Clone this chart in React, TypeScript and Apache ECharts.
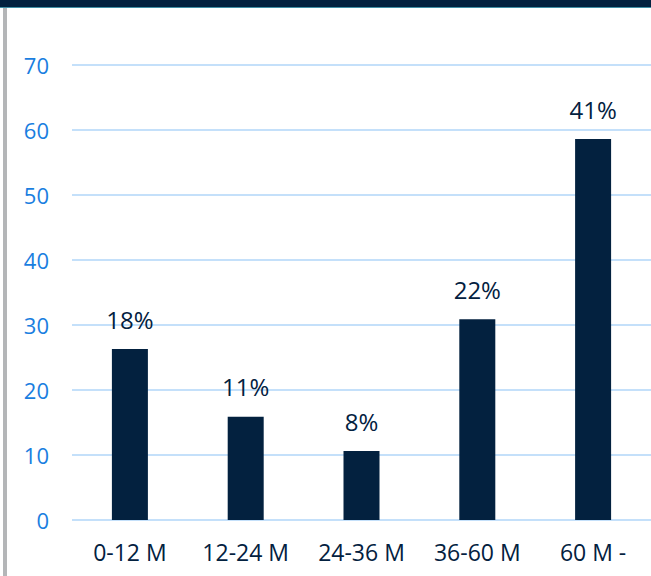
import React, { useEffect, useRef } from "react";
import * as echarts from "echarts";

const categories = ["0-12 M", "12-24 M", "24-36 M", "36-60 M", "60 M -"];
const values = [26.3, 15.9, 10.6, 30.9, 58.6];
const percentLabels = ["18%", "11%", "8%", "22%", "41%"];
const yTicks = [0, 10, 20, 30, 40, 50, 60, 70];

export default function App() {
  const ref = useRef<HTMLDivElement>(null);
  useEffect(() => {
    if (!ref.current) return;
    const chart = echarts.init(ref.current, undefined, { renderer: "svg" });
    chart.setOption({
      animation: false,
      backgroundColor: "#ffffff",
      textStyle: { fontFamily: "Open Sans" },
      graphic: [
        { type: "rect", left: 0, top: 0, shape: { width: 651, height: 7 }, style: { fill: "#03213f" } },
        { type: "rect", left: 0, top: 7, shape: { width: 651, height: 1 }, style: { fill: "#3f8ea4" } },
        { type: "rect", left: 3, top: 8, shape: { width: 4, height: 568 }, style: { fill: "#b4b6b8" } },
      ],
      grid: { left: 72, right: 0, top: 65, bottom: 56 },
      xAxis: {
        type: "category",
        data: categories,
        axisLine: { show: false },
        axisTick: { show: false },
        axisLabel: { color: "#03213f", fontSize: 23, margin: 20, fontFamily: "Open Sans" },
      },
      yAxis: {
        type: "value",
        min: yTicks[0],
        max: yTicks[yTicks.length - 1],
        interval: 10,
        axisLine: { show: false },
        axisTick: { show: false },
        axisLabel: { color: "#1a7ee0", fontSize: 22, margin: 23, fontFamily: "Open Sans" },
        splitLine: { lineStyle: { color: "#c4e0fa", width: 2 } },
      },
      series: [
        {
          type: "bar",
          data: values,
          barWidth: 36,
          itemStyle: { color: "#03213f" },
          label: {
            show: true,
            position: "top",
            distance: 18,
            color: "#03213f",
            fontSize: 24,
            fontFamily: "Open Sans",
            formatter: (p: any) => percentLabels[p.dataIndex],
          },
        },
      ],
    });
    return () => chart.dispose();
  }, []);
  return (
    <div
      ref={ref}
      style={{ position: "absolute", left: 0, top: 0, width: 651, height: 576 }}
    />
  );
}
